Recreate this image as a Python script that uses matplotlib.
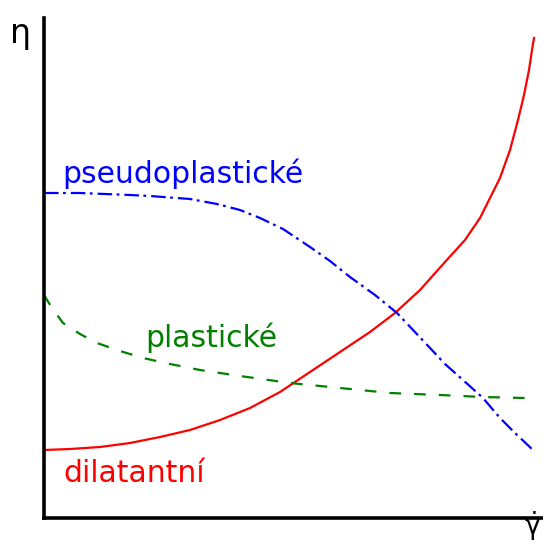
import matplotlib
matplotlib.use("Agg")
import matplotlib.pyplot as plt

plt.rcParams['font.family'] = ['DejaVu Sans']
plt.rcParams['mathtext.fontset'] = 'dejavusans'
plt.rcParams['lines.scale_dashes'] = False

# data in arbitrary units (x: shear rate, y: viscosity), range 0..500
dil_x = [0, 26, 56, 86, 116, 146, 176, 206, 236, 266, 296, 326, 351, 376, 401,
         421, 436, 446, 456, 466, 474, 480, 485, 488, 490]
dil_y = [68, 69, 71, 75, 81, 88, 98, 110, 126, 146, 166, 186, 205, 228, 256,
         278, 300, 320, 340, 368, 398, 423, 448, 468, 480]

pseudo_x = [0, 36, 86, 106, 146, 173, 196, 216, 239, 266, 286, 306, 331, 353,
            369, 386, 401, 419, 439, 456, 471, 489]
pseudo_y = [325, 325, 323, 322, 319, 314, 308, 300, 289, 271, 257, 241, 223, 205,
            188, 170, 154, 138, 120, 100, 85, 68]

plast_x = [0, 8, 19, 36, 53, 76, 99, 126, 156, 196, 246, 296, 346, 396, 439, 481]
plast_y = [223, 210, 195, 184, 175, 167, 160, 154, 148, 142, 135, 130, 125, 123, 121, 120]

labels = ["pseudoplastické", "plastické", "dilatantní"]
colors = ["#0000ff", "#008000", "#ff0000"]

fig = plt.figure(figsize=(5.43, 5.44), dpi=100)
ax = fig.add_axes([44/543, 26/544, (543-44)/543, (518-18)/544])
ax.set_xlim(0, 499)
ax.set_ylim(0, 500)

ax.plot(dil_x, dil_y, color=colors[2], lw=1.6, solid_joinstyle='round')
ax.plot(pseudo_x, pseudo_y, color=colors[0], lw=1.6,
        linestyle=(0, (10.5, 3.2, 2.0, 3.6)))
ax.plot(plast_x, plast_y, color=colors[1], lw=1.6,
        linestyle=(0, (8.4, 9.4)))

for s in ['top', 'right']:
    ax.spines[s].set_visible(False)
for s in ['left', 'bottom']:
    ax.spines[s].set_linewidth(2.6)
    ax.spines[s].set_color('black')
ax.set_xticks([])
ax.set_yticks([])

fs = 21.5
ax.text(18, 518-183, labels[0], color=colors[0], fontsize=fs, va='baseline', ha='left')
ax.text(101, 518-347, labels[1], color=colors[1], fontsize=fs, va='baseline', ha='left')
ax.text(19, 518-482, labels[2], color=colors[2], fontsize=fs, va='baseline', ha='left')

fig.text(10/543, 1-43/544, "η", fontsize=24, va='baseline', ha='left', color='black')
fig.text(541/543, 1/544, r"$\dot{\mathrm{\gamma}}$", fontsize=19,
         va='bottom', ha='right', color='black')

fig.savefig("out.png", dpi=100)
